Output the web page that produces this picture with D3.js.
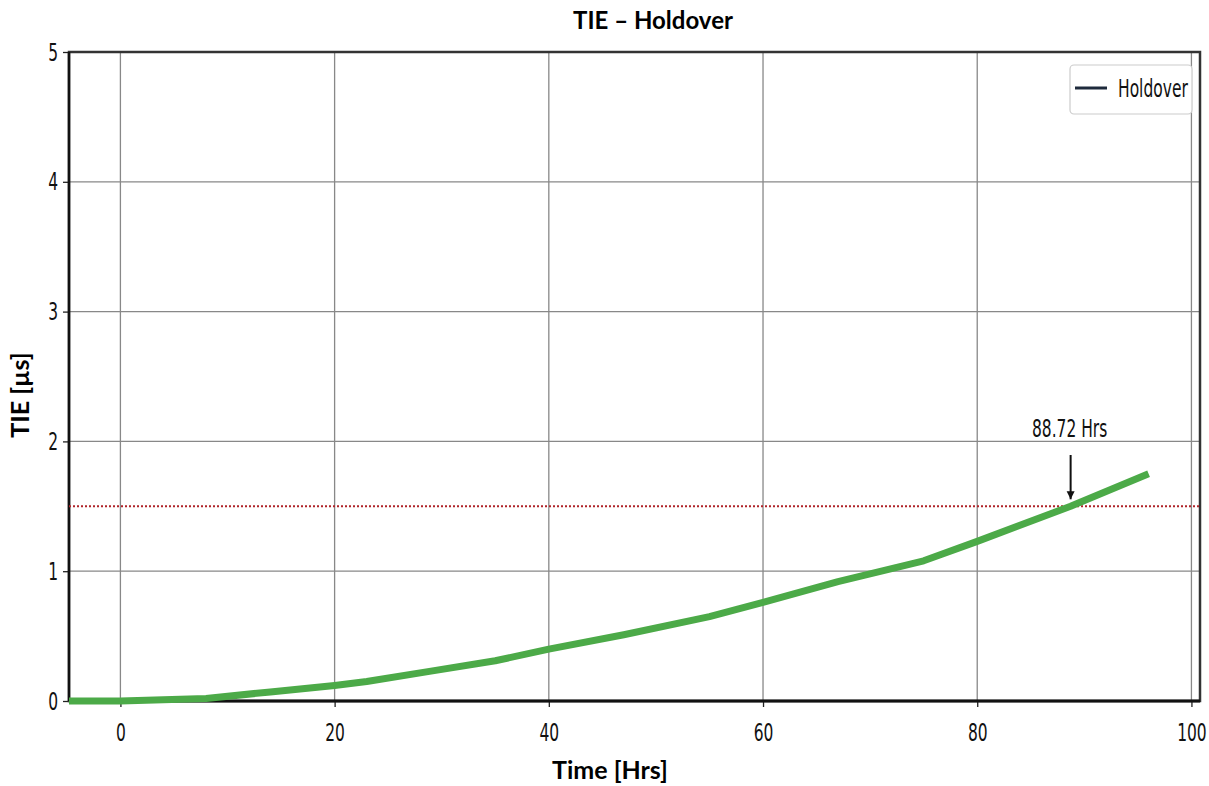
<!DOCTYPE html>
<html><head><meta charset="utf-8">
<script src="https://cdn.jsdelivr.net/npm/d3@7/dist/d3.min.js"></script>
<style>body{margin:0;background:#fff}</style>
</head><body><svg id="c" width="1209" height="786"></svg>
<script>
const timeHrs = [-4.8, 0, 8, 14, 20, 23, 29, 35, 40, 47, 55, 60, 67, 75, 80, 88.72, 96];
const tieUs   = [0, 0, 0.02, 0.07, 0.12, 0.15, 0.23, 0.31, 0.40, 0.51, 0.65, 0.76, 0.92, 1.08, 1.23, 1.50, 1.75];
const xTicks = [0, 20, 40, 60, 80, 100];
const yTicks = [0, 1, 2, 3, 4, 5];
const limitUs = 1.5;
const crossHrs = 88.72;
const seriesName = "Holdover";

const svg = d3.select("#c");
const m = {l:69, r:1200, t:52, b:701};
const x = d3.scaleLinear().domain([-4.8, 100.8]).range([m.l, m.r]);
const y = d3.scaleLinear().domain([0, 5]).range([m.b, m.t]);
const tickFont = "'DejaVu Sans',sans-serif";
const SX = 0.62;
function narrow(sel){
  sel.attr("font-family", tickFont).attr("font-size", 25).attr("fill", "#111")
    .each(function(){
      const t = d3.select(this);
      const xv = +(t.attr("x") || 0);
      t.attr("x", xv / SX).attr("transform", `scale(${SX},1)`);
    });
}

// grid
svg.append("g").selectAll("line").data(xTicks).join("line")
  .attr("x1", d=>x(d)).attr("x2", d=>x(d)).attr("y1", m.t).attr("y2", m.b)
  .attr("stroke", "#888").attr("stroke-width", 1.3);
svg.append("g").selectAll("line").data(yTicks).join("line")
  .attr("x1", m.l).attr("x2", m.r).attr("y1", d=>y(d)).attr("y2", d=>y(d))
  .attr("stroke", "#888").attr("stroke-width", 1.3);

// axes
const xa = svg.append("g").attr("transform", `translate(0,${m.b})`)
  .call(d3.axisBottom(x).tickValues(xTicks).tickSize(6).tickPadding(16).tickFormat(d3.format("d")));
const ya = svg.append("g").attr("transform", `translate(${m.l},0)`)
  .call(d3.axisLeft(y).tickValues(yTicks).tickSize(6).tickPadding(5).tickFormat(d3.format("d")));
[xa, ya].forEach(a => {
  a.select(".domain").remove();
  narrow(a.selectAll("text"));
  a.selectAll(".tick line").attr("stroke", "#222").attr("stroke-width", 1.3);
});

// frame
svg.append("rect").attr("x", m.l).attr("y", m.t).attr("width", m.r-m.l).attr("height", m.b-m.t)
  .attr("fill", "none").attr("stroke", "#333").attr("stroke-width", 2.5);
svg.append("line").attr("x1", m.l).attr("x2", m.l).attr("y1", m.t).attr("y2", m.b).attr("stroke", "#111").attr("stroke-width", 2.5);
svg.append("line").attr("x1", m.l).attr("x2", m.r).attr("y1", m.b).attr("y2", m.b).attr("stroke", "#111").attr("stroke-width", 3);

// limit line
svg.append("line").attr("x1", m.l).attr("x2", m.r).attr("y1", y(limitUs)).attr("y2", y(limitUs))
  .attr("stroke", "#b0242a").attr("stroke-width", 2).attr("stroke-dasharray", "2,2");

// series
const pts = timeHrs.map((t,i)=>[t, tieUs[i]]);
svg.append("path").datum(pts)
  .attr("d", d3.line().x(d=>x(d[0])).y(d=>y(d[1])))
  .attr("fill", "none").attr("stroke", "#4caa48").attr("stroke-width", 7).attr("stroke-linejoin", "round");

// annotation
narrow(svg.append("text").attr("x", x(crossHrs)-1).attr("y", 437).attr("text-anchor", "middle")
  .text(crossHrs.toFixed(2) + " Hrs"));
svg.append("defs").append("marker").attr("id", "ah").attr("viewBox", "0 0 10 10")
  .attr("refX", 10).attr("refY", 5).attr("markerWidth", 4).attr("markerHeight", 5).attr("orient", "auto")
  .append("path").attr("d", "M0,0L10,5L0,10z").attr("fill", "#111");
svg.append("line").attr("x1", x(crossHrs)).attr("x2", x(crossHrs)).attr("y1", 455).attr("y2", y(limitUs)-7)
  .attr("stroke", "#111").attr("stroke-width", 2).attr("marker-end", "url(#ah)");

// legend
const lg = svg.append("g");
lg.append("rect").attr("x", 1070).attr("y", 65).attr("width", 122).attr("height", 49).attr("rx", 4)
  .attr("fill", "#fff").attr("stroke", "#ccc").attr("stroke-width", 1.2);
lg.append("line").attr("x1", 1075).attr("x2", 1107).attr("y1", 88).attr("y2", 88)
  .attr("stroke", "#1e2a3c").attr("stroke-width", 3);
narrow(lg.append("text").attr("x", 1118).attr("y", 97).text(seriesName));

// titles
const bold = "Lato,'Open Sans','DejaVu Sans',sans-serif";
svg.append("text").attr("x", 653).attr("y", 29).attr("text-anchor", "middle").attr("font-family", bold)
  .attr("font-weight", "bold").attr("font-size", 24).text("TIE – Holdover");
svg.append("text").attr("x", 610).attr("y", 779).attr("text-anchor", "middle").attr("font-family", bold)
  .attr("font-weight", "bold").attr("font-size", 25).text("Time [Hrs]");
svg.append("text").attr("transform", "translate(29,395) rotate(-90)").attr("text-anchor", "middle")
  .attr("font-family", bold).attr("font-weight", "bold").attr("font-size", 25).text("TIE [µs]");
</script></body></html>
